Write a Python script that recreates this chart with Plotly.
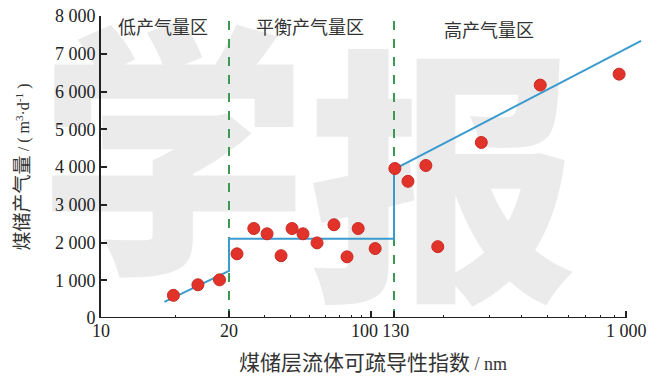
import math
import plotly.graph_objects as go

# ---- data (real units) ----
low_x = [14.8, 16.9, 19.0]
low_y = [600, 880, 1010]
mid_x = [21.9, 26.5, 30.8, 36.1, 40.9, 46.3, 54.3, 65.8, 76.3, 86.6, 105]
mid_y = [1700, 2370, 2230, 1650, 2370, 2230, 1990, 2470, 1620, 2370, 1840]
high_x = [131, 147, 172, 191, 280, 470, 940]
high_y = [3960, 3620, 4040, 1890, 4650, 6170, 6460]
fit_x = [14.1, 20, 20, 130, 130, 1140]
fit_y = [425, 1250, 2100, 2100, 3940, 7340]
bounds = [20, 130]
x_major = [10, 20, 100, 130, 1000]
x_major_text = ["10", "20", "100\u2002\u2009", "\u2009130", "1 000"]
x_minor = [15, 30, 40, 50, 60, 70, 80, 90, 200, 300, 400, 500, 600, 700, 800, 900]
y_ticks = [0, 1000, 2000, 3000, 4000, 5000, 6000, 7000, 8000]
y_text = ["0", "1 000", "2 000", "3 000", "4 000", "5 000", "6 000", "7 000", "8 000"]
zones = ["低产气量区", "平衡产气量区", "高产气量区"]
zone_x = [14.0, 50.0, 300.0]
zone_y = [7740, 7740, 7660]


# piecewise logarithmic scale used by the original figure
def xm(v):
    if v <= 20:
        return 128 * math.log10(v / 10) / math.log10(2)
    if v <= 130:
        return 128 + 165 * math.log10(v / 20) / math.log10(6.5)
    return 293 + 262 * math.log10(v / 130)


def xms(vals):
    return [xm(v) for v in vals]


serif = "Liberation Serif"
cjk = "Noto Sans CJK SC"

fig = go.Figure()

# watermark (behind everything)
fig.add_trace(go.Scatter(
    x=[xm(14.8), xm(200)], y=[3500, 2800], mode="text",
    text=["学", "报"], cliponaxis=False, hoverinfo="skip", showlegend=False,
    textfont=dict(family=cjk, size=270, color="#ebebeb", weight=900),
))

for b in bounds:
    fig.add_trace(go.Scatter(
        x=[xm(b), xm(b)], y=[0, 7950], mode="lines", hoverinfo="skip",
        line=dict(color="#3a9a52", width=2, dash="dash"), showlegend=False,
    ))

fig.add_trace(go.Scatter(
    x=xms(fit_x), y=fit_y, mode="lines",
    line=dict(color="#3b9bcf", width=2), showlegend=False,
))
pts_x = low_x + mid_x + high_x
pts_y = low_y + mid_y + high_y
fig.add_trace(go.Scatter(
    x=xms(pts_x), y=pts_y, mode="markers", cliponaxis=False,
    marker=dict(size=12, color="#e2332b", line=dict(color="#c92a22", width=1)),
    showlegend=False,
))

# x axis baseline (ends at 1000)
fig.add_shape(type="line", x0=0, x1=xm(1000), y0=0, y1=0, xref="x", yref="y",
              line=dict(color="#222", width=2))

for t, xv, yv in zip(zones, zone_x, zone_y):
    fig.add_annotation(x=xm(xv), y=yv, text=t, showarrow=False,
                       font=dict(family=cjk, size=18, color="#333"))

ytitle = ("煤储产气量 <span style='font-family:Liberation Serif;font-size:16px'>"
          "/ ( m<sup>3</sup>·d<sup>-1</sup> )</span>")
xtitle = "煤储层流体可疏导性指数 <span style='font-family:Liberation Serif;font-size:18px'>/ nm</span>"

fig.update_layout(
    width=660, height=376,
    margin=dict(l=101, r=15, t=16, b=58),
    paper_bgcolor="white", plot_bgcolor="rgba(0,0,0,0)",
    xaxis=dict(
        range=[0, 544], showgrid=False, zeroline=False, showline=False,
        automargin=False, tickangle=0,
        tickmode="array", tickvals=xms(x_major), ticktext=x_major_text,
        ticks="inside", ticklen=7, tickwidth=1.5, tickcolor="#222",
        tickfont=dict(family=serif, size=18, color="#222"),
        minor=dict(tickmode="array", tickvals=xms(x_minor), ticks="inside",
                   ticklen=3, tickwidth=1, tickcolor="#222"),
        title=dict(text=xtitle, font=dict(family=cjk, size=21, color="#333"), standoff=16),
    ),
    yaxis=dict(
        range=[0, 8000], showgrid=False, zeroline=False, showline=True,
        automargin=False,
        linecolor="#222", linewidth=2,
        tickmode="array", tickvals=y_ticks, ticktext=y_text,
        ticks="inside", ticklen=6, tickwidth=1.5, tickcolor="#222",
        tickfont=dict(family=serif, size=18, color="#222"),
        title=dict(text=ytitle, font=dict(family=cjk, size=19, color="#333"), standoff=20),
    ),
)

fig.write_html("out.html", config={"displayModeBar": False},
               post_script="document.body.style.margin='0';")
